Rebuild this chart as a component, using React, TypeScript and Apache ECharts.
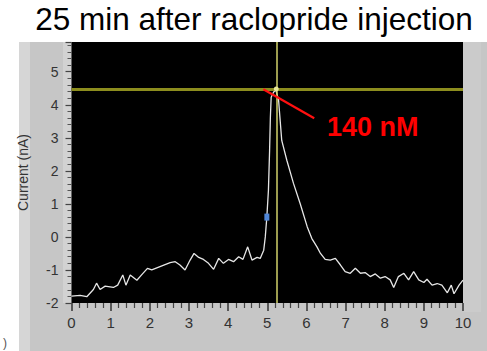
import React, { useEffect, useRef } from "react";
import * as echarts from "echarts";

const timeS = [
  0, 0.22, 0.39, 0.56, 0.64, 0.73, 0.86, 1.07, 1.18, 1.31, 1.39, 1.5, 1.67, 1.79, 1.94,
  2.05, 2.26, 2.52, 2.65, 2.77, 2.9, 3.03, 3.13, 3.25, 3.37, 3.5, 3.63, 3.76, 3.88, 4.01,
  4.14, 4.27, 4.38, 4.5, 4.61, 4.74, 4.82, 4.91, 4.95, 4.99, 5.03, 5.06, 5.08, 5.1, 5.16,
  5.22, 5.29, 5.37, 5.5, 5.67, 5.84, 6.02, 6.14, 6.27, 6.36, 6.48, 6.61, 6.74, 6.87, 6.99,
  7.12, 7.25, 7.38, 7.5, 7.63, 7.76, 7.89, 8.01, 8.14, 8.23, 8.35, 8.49, 8.61, 8.74, 8.87,
  9.0, 9.08, 9.21, 9.34, 9.46, 9.6, 9.7, 9.77, 9.9, 10.0,
];
const currentNA = [
  -1.79, -1.77, -1.81, -1.59, -1.4, -1.59, -1.49, -1.53, -1.46, -1.15, -1.46, -1.15, -1.31, -1.15, -0.95,
  -1.0, -0.9, -0.78, -0.75, -0.85, -1.0, -0.7, -0.5, -0.62, -0.68, -0.8, -0.98, -0.65, -0.8, -0.68,
  -0.75, -0.6, -0.68, -0.3, -0.7, -0.62, -0.65, -0.4, 0.0, 0.61, 1.41, 2.62, 3.63, 4.23, 4.38,
  4.45, 4.13, 2.92, 2.32, 1.62, 1.01, 0.31, -0.05, -0.3, -0.5, -0.68, -0.7, -0.65, -0.85, -1.05,
  -1.1, -0.95, -1.1, -1.08, -1.2, -1.12, -1.25, -1.2, -1.3, -1.53, -1.2, -1.1, -1.3, -1.05, -1.3,
  -1.38, -1.28, -1.46, -1.41, -1.46, -1.69, -1.46, -1.72, -1.46, -1.31,
];
const cursorX = 5.23;
const cursorY = 4.48;
const blueMarker = [4.99, 0.6];
const annotationLine = [
  [4.9, 4.47],
  [6.2, 3.59],
];
const titleText = "25 min after raclopride injection";
const annotationText = "140 nM";

export default function App() {
  const ref = useRef<HTMLDivElement>(null);
  useEffect(() => {
    if (!ref.current) return;
    const chart = echarts.init(ref.current, null, { renderer: "svg" });
    const data = timeS.map((t, i) => [t, currentNA[i]]);
    chart.setOption({
      animation: false,
      backgroundColor: "#ffffff",
      grid: { left: 71.5, right: 24, top: 42, bottom: 48, containLabel: false },
      graphic: [
        { type: "rect", z: -10, shape: { x: 19, y: 42, width: 468, height: 309 }, style: { fill: "#c6c6c6" } },
        { type: "rect", z: -9, shape: { x: 19, y: 42, width: 11, height: 309 }, style: { fill: "#d6d6d6" } },
        { type: "rect", z: -9, shape: { x: 63, y: 42, width: 8.5, height: 261 }, style: { fill: "#d2d2d2" } },
        { type: "rect", z: -9, shape: { x: 463, y: 42, width: 18, height: 270 }, style: { fill: "#cbcbcb" } },
        { type: "rect", z: -8, shape: { x: 71.5, y: 42, width: 391.5, height: 261 }, style: { fill: "#000000" } },
        {
          type: "text",
          x: 254,
          y: 19,
          style: {
            text: titleText,
            fill: "#000",
            font: "31.5px 'Liberation Sans', Arial, sans-serif",
            textAlign: "center",
            textVerticalAlign: "middle",
          },
        },
        {
          type: "text",
          x: 327,
          y: 127,
          z: 100,
          style: {
            text: annotationText,
            fill: "#ff0000",
            font: "bold 27px 'Liberation Sans', Arial, sans-serif",
            textAlign: "left",
            textVerticalAlign: "middle",
          },
        },
        {
          type: "text",
          x: 3,
          y: 343,
          style: { text: ")", fill: "#555", font: "12px 'Liberation Sans', Arial, sans-serif", textVerticalAlign: "middle" },
        },
      ],
      xAxis: {
        type: "value",
        min: 0,
        max: 10,
        interval: 1,
        axisLine: { show: false, onZero: false },
        axisTick: { show: true, length: 8, lineStyle: { color: "#333", width: 1.5 } },
        minorTick: { show: true, splitNumber: 5, length: 5, lineStyle: { color: "#444", width: 1.2 } },
        splitLine: { show: false },
        axisLabel: { color: "#333", fontSize: 15, margin: 12, fontFamily: "'Liberation Sans', Arial, sans-serif" },
      },
      yAxis: {
        type: "value",
        min: -2,
        max: 5.9,
        interval: 1,
        name: "Current (nA)",
        nameLocation: "middle",
        nameGap: 42,
        nameTextStyle: { color: "#333", fontSize: 14, fontFamily: "'Liberation Sans', Arial, sans-serif" },
        axisLine: { show: false, onZero: false },
        axisTick: { show: true, length: 6, lineStyle: { color: "#444", width: 1.2 } },
        minorTick: { show: true, splitNumber: 5, length: 4, lineStyle: { color: "#555", width: 1 } },
        splitLine: { show: false },
        axisLabel: {
          color: "#333",
          fontSize: 14,
          margin: 13,
          fontFamily: "'Liberation Sans', Arial, sans-serif",
          formatter: (v: number) => (Math.abs(v - Math.round(v)) < 1e-6 ? String(Math.round(v)) : ""),
        },
      },
      series: [
        {
          type: "line",
          data,
          showSymbol: false,
          symbol: "none",
          lineStyle: { color: "#e6e6e6", width: 1.3 },
          z: 3,
          markLine: {
            silent: true,
            symbol: "none",
            label: { show: false },
            data: [
              { yAxis: cursorY, lineStyle: { color: "#8c8d1e", width: 3, type: "solid" } },
              { xAxis: cursorX, lineStyle: { color: "#d2d26a", width: 1.5, type: "solid" } },
              [
                { coord: annotationLine[0], lineStyle: { color: "#ff1010", width: 2.2, type: "solid" } },
                { coord: annotationLine[1] },
              ],
            ],
          },
          markPoint: {
            silent: true,
            label: { show: false },
            data: [
              { coord: blueMarker, symbol: "rect", symbolSize: [5, 7], itemStyle: { color: "#4f86d8" } },
              { coord: [cursorX, cursorY], symbol: "circle", symbolSize: 5, itemStyle: { color: "#e8e89a" } },
            ],
          },
        },
      ],
    });
    return () => chart.dispose();
  }, []);
  return <div ref={ref} style={{ position: "fixed", left: 0, top: 0, width: 487, height: 351 }} />;
}
